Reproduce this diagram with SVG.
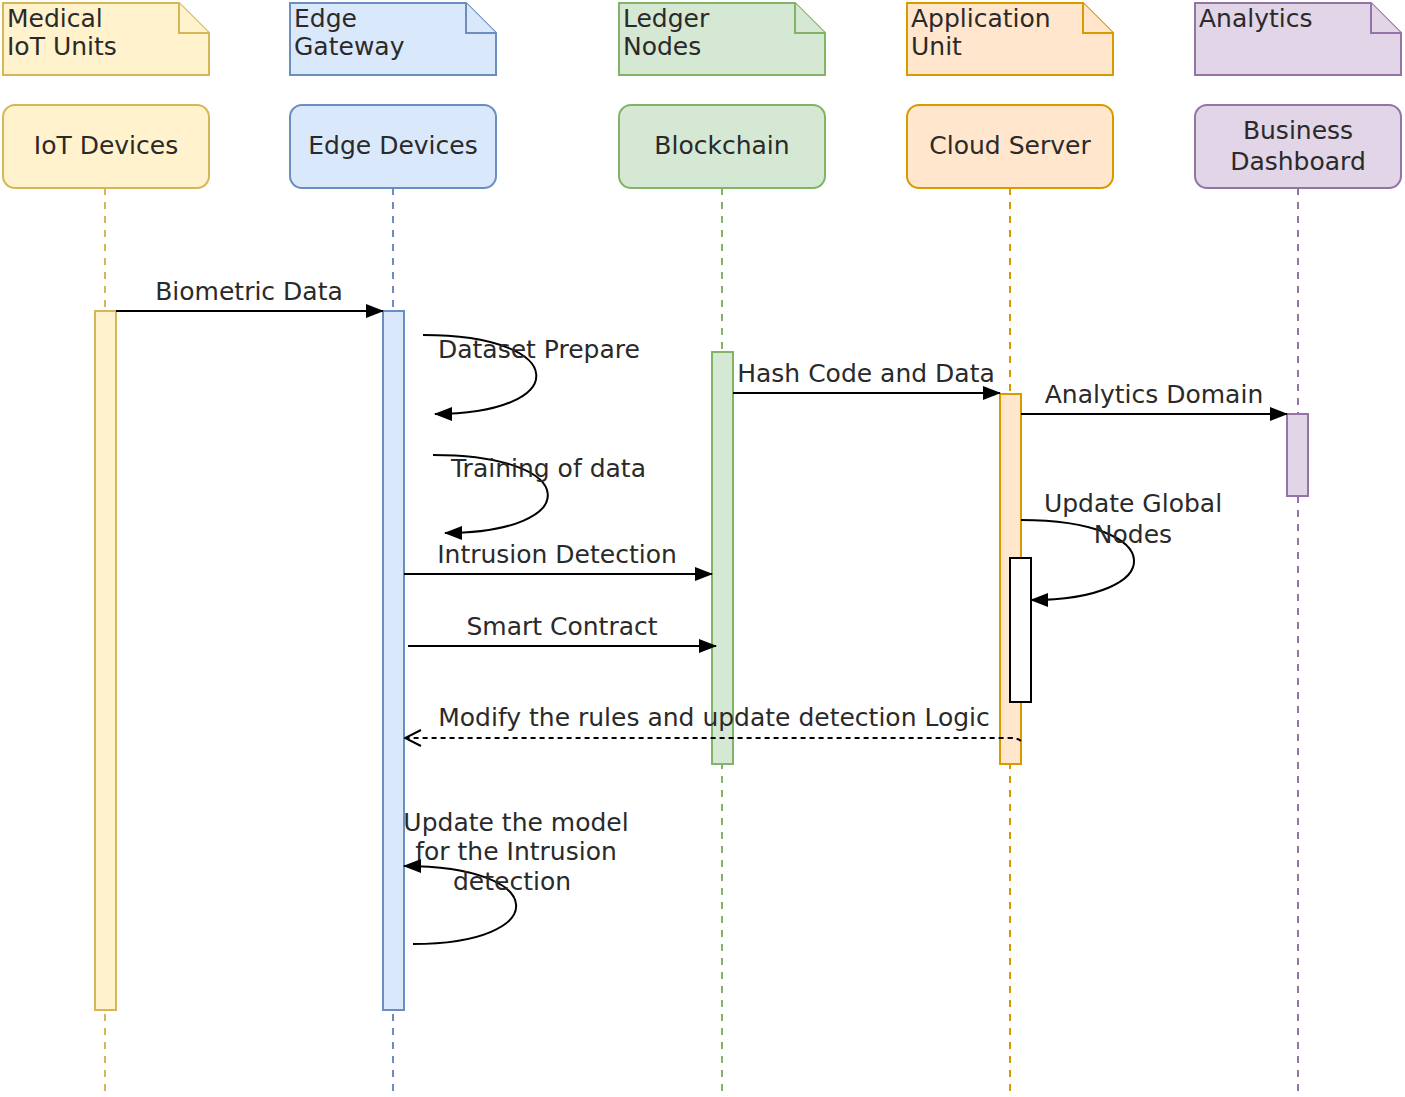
<svg xmlns="http://www.w3.org/2000/svg" width="1405" height="1097" viewBox="0 0 1405 1097">
<style>
text{font-family:"DejaVu Sans","Noto Sans",sans-serif;font-size:25px;fill:#2a2a2a}
.c{text-anchor:middle}
.msg{fill:none;stroke:#000;stroke-width:2}
.life{fill:none;stroke-width:2;stroke-dasharray:7 7}
.y{fill:#fff2cc;stroke:#d6b656;stroke-width:2}
.b{fill:#dae8fc;stroke:#6c8ebf;stroke-width:2}
.g{fill:#d5e8d4;stroke:#82b366;stroke-width:2}
.o{fill:#ffe6cc;stroke:#d79b00;stroke-width:2}
.p{fill:#e1d5e7;stroke:#9673a6;stroke-width:2}
</style>
<defs>
<marker id="arr" markerWidth="18" markerHeight="14" refX="17" refY="7" orient="auto" markerUnits="userSpaceOnUse"><path d="M0,0 L18,7 L0,14 Z" fill="#000"/></marker>
<marker id="open" markerWidth="18" markerHeight="18" refX="17" refY="9" orient="auto" markerUnits="userSpaceOnUse"><path d="M1,1 L17,9 L1,17" fill="none" stroke="#000" stroke-width="2"/></marker>
</defs>
<rect width="1405" height="1097" fill="#fff"/>

<g id="lifelines">
<line class="life" x1="105" y1="188" x2="105" y2="1095" stroke="#d6b656"/>
<line class="life" x1="393" y1="188" x2="393" y2="1095" stroke="#6c8ebf"/>
<line class="life" x1="722" y1="188" x2="722" y2="1095" stroke="#82b366"/>
<line class="life" x1="1010" y1="188" x2="1010" y2="1095" stroke="#d79b00"/>
<line class="life" x1="1298" y1="188" x2="1298" y2="1095" stroke="#9673a6"/>
</g>

<g id="note-medical"><path class="y" d="M3,3 H179 L209,33 V75 H3 Z"/><path class="y" d="M179,3 V33 H209" fill="none"/><text x="7" y="27">Medical</text><text x="7" y="55">IoT Units</text></g>
<g id="note-edge"><path class="b" d="M290,3 H466 L496,33 V75 H290 Z"/><path class="b" d="M466,3 V33 H496" fill="none"/><text x="294" y="27">Edge</text><text x="294" y="55">Gateway</text></g>
<g id="note-ledger"><path class="g" d="M619,3 H795 L825,33 V75 H619 Z"/><path class="g" d="M795,3 V33 H825" fill="none"/><text x="623" y="27">Ledger</text><text x="623" y="55">Nodes</text></g>
<g id="note-app"><path class="o" d="M907,3 H1083 L1113,33 V75 H907 Z"/><path class="o" d="M1083,3 V33 H1113" fill="none"/><text x="911" y="27">Application</text><text x="911" y="55">Unit</text></g>
<g id="note-analytics"><path class="p" d="M1195,3 H1371 L1401,33 V75 H1195 Z"/><path class="p" d="M1371,3 V33 H1401" fill="none"/><text x="1199" y="27">Analytics</text></g>

<g id="iot"><rect class="y" x="3" y="105" width="206" height="83" rx="12"/><text class="c" x="106" y="154">IoT Devices</text></g>
<g id="edge"><rect class="b" x="290" y="105" width="206" height="83" rx="12"/><text class="c" x="393" y="154">Edge Devices</text></g>
<g id="blockchain"><rect class="g" x="619" y="105" width="206" height="83" rx="12"/><text class="c" x="722" y="154">Blockchain</text></g>
<g id="cloud"><rect class="o" x="907" y="105" width="206" height="83" rx="12"/><text class="c" x="1010" y="154">Cloud Server</text></g>
<g id="dashboard"><rect class="p" x="1195" y="105" width="206" height="83" rx="12"/><text class="c" x="1298" y="139">Business</text><text class="c" x="1298" y="170">Dashboard</text></g>

<g id="activations">
<rect class="y" x="95" y="311" width="21" height="699"/>
<rect class="b" x="383" y="311" width="21" height="699"/>
<rect class="g" x="712" y="352" width="21" height="412"/>
<rect class="o" x="1000" y="394" width="21" height="370"/>
<rect class="p" x="1287" y="414" width="21" height="82"/>
<rect x="1010" y="558" width="21" height="144" fill="#fff" stroke="#000" stroke-width="2"/>
</g>

<g id="connectors">
<line class="msg" x1="116" y1="311" x2="383" y2="311" marker-end="url(#arr)"/>
<text class="c" x="249" y="300">Biometric Data</text>
<path class="msg" d="M423,335 C572,335 572,414 435,414" marker-end="url(#arr)"/>
<text x="438" y="358">Dataset Prepare</text>
<path class="msg" d="M433,455 C584,455 584,533 445,533" marker-end="url(#arr)"/>
<text x="451" y="477">Training of data</text>
<line class="msg" x1="404" y1="574" x2="712" y2="574" marker-end="url(#arr)"/>
<text class="c" x="557" y="563">Intrusion Detection</text>
<line class="msg" x1="408" y1="646" x2="716" y2="646" marker-end="url(#arr)"/>
<text class="c" x="562" y="635">Smart Contract</text>
<line class="msg" x1="733" y1="393" x2="1000" y2="393" marker-end="url(#arr)"/>
<text class="c" x="866" y="382">Hash Code and Data</text>
<line class="msg" x1="1021" y1="414" x2="1287" y2="414" marker-end="url(#arr)"/>
<text class="c" x="1154" y="403">Analytics Domain</text>
<path class="msg" d="M1021,520 C1170,520 1170,600 1031,600" marker-end="url(#arr)"/>
<text class="c" x="1133" y="512">Update Global</text>
<text class="c" x="1133" y="543">Nodes</text>
<path class="msg" d="M1021,741 Q1018,738 1010,738 L405,738" stroke-dasharray="5 4" marker-end="url(#open)"/>
<text class="c" x="714" y="726">Modify the rules and update detection Logic</text>
<path class="msg" d="M413,944 C552,944 552,866 404,866" marker-end="url(#arr)"/>
<text class="c" x="516" y="831">Update the model</text>
<text class="c" x="516" y="860">for the Intrusion</text>
<text class="c" x="512" y="890">detection</text>
</g>
</svg>
